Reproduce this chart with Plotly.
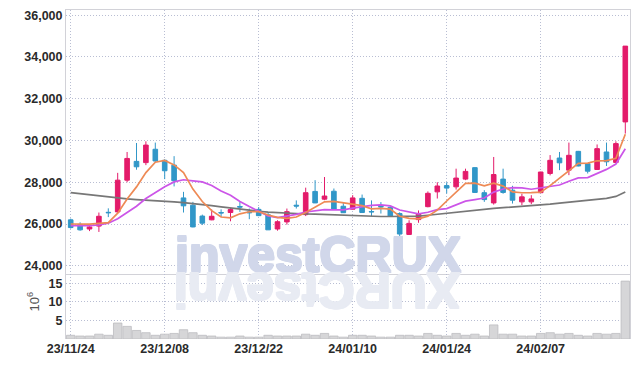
import plotly.graph_objects as go

dates = ["23/11/24","23/11/27","23/11/28","23/11/29","23/11/30","23/12/01","23/12/04","23/12/05","23/12/06","23/12/07",
         "23/12/08","23/12/11","23/12/12","23/12/13","23/12/14","23/12/15","23/12/18","23/12/19","23/12/20","23/12/21",
         "23/12/22","23/12/26","23/12/27","23/12/28","24/01/02","24/01/03","24/01/04","24/01/05","24/01/08","24/01/09",
         "24/01/10","24/01/11","24/01/12","24/01/15","24/01/16","24/01/17","24/01/18","24/01/19","24/01/22","24/01/23",
         "24/01/24","24/01/25","24/01/26","24/01/29","24/01/30","24/01/31","24/02/01","24/02/02","24/02/05","24/02/06",
         "24/02/07","24/02/08","24/02/13","24/02/14","24/02/15","24/02/16","24/02/19","24/02/20","24/02/21","24/02/22"]

opens = [26200,25980,25760,25900,26560,26580,28100,29000,28940,29580,
         29050,28820,27250,26900,26380,26200,26550,26550,26840,26580,
         26700,26440,25760,26100,26900,26450,27560,27190,27570,26850,
         26710,27230,26600,26850,26800,26500,25500,26210,26830,27540,
         27840,27780,28150,28700,27500,27010,28150,27620,27060,27060,
         27500,28420,29160,28580,29480,28890,28610,29450,28950,30890]
highs = [26260,26080,25900,26550,26750,28450,29450,29880,29960,29900,
         29100,29250,27540,27060,26450,26700,26700,26770,27050,26740,
         26810,26540,26180,26740,27130,27740,28100,28250,27700,27010,
         27380,27410,27130,27050,26850,26560,26180,26650,27560,28000,
         28000,28650,28650,28720,27620,29210,28650,27830,27450,27380,
         28500,29300,29450,29900,29500,28900,29810,29900,29960,34520]
lows = [25780,25680,25660,25620,26330,26500,28000,28600,28820,28960,
        28150,27800,26550,25840,25950,26180,26340,26130,26580,26230,
        26380,25720,25680,25970,26740,26380,27000,27140,26700,26530,
        26700,26540,26370,26500,26350,25380,25480,26060,26800,27220,
        27460,27650,28100,27500,27060,26930,27450,26980,26900,26950,
        27480,28330,28580,28340,28760,28420,28600,28780,28940,30330]
closes = [25830,25720,25860,26370,26540,28100,29140,28740,29780,29020,
          28550,28070,26870,25860,26040,26370,26530,26690,26810,26540,
          26400,25720,26110,26590,26860,27500,27010,27340,26720,26540,
          27250,26550,26580,26820,26380,25520,26030,26470,27470,27820,
          27720,28200,28520,27510,27170,28370,27510,27140,27300,27200,
          28490,29050,28930,29290,28780,28530,29610,28980,29850,34520]
volumes = [1.0,0.8,0.8,1.3,1.0,4.3,3.4,2.3,1.7,1.0,
           1.3,1.5,2.5,1.7,1.0,0.8,0.5,0.5,0.8,0.5,
           0.5,1.0,0.8,0.8,0.8,1.3,1.0,1.5,0.8,0.5,
           1.0,1.0,0.8,0.5,0.5,1.0,1.0,0.8,1.5,1.0,
           0.8,1.5,1.0,1.3,0.8,3.8,1.3,1.3,0.8,0.8,
           1.5,1.7,1.3,1.5,1.0,0.8,1.5,1.3,1.5,15.6]
# moving-average values read from the chart where earlier history is not shown
ma5_head = [26000,26000,25990,26030]
ma10_head = [25920,25910,25920,25960,26040,26250,26560,26850,27220]
ma_long = [27500,27450,27400,27330,27270,27230,27200,27170,27150,27120,
           27100,27060,27020,26980,26940,26880,26820,26760,26700,26650,
           26610,26570,26540,26520,26500,26480,26470,26450,26430,26410,
           26390,26380,26370,26360,26360,26360,26370,26380,26420,26470,
           26520,26570,26620,26670,26720,26750,26780,26810,26840,26870,
           26900,26950,27000,27040,27080,27130,27180,27230,27320,27530]
price_ticks = [24000,26000,28000,30000,32000,34000,36000]
price_labels = ["24,000","26,000","28,000","30,000","32,000","34,000","36,000"]
vol_ticks = [5,10,15]
vol_labels = ["5","10","15"]

def rolling(vals, n, head):
    return list(head) + [sum(vals[i-n+1:i+1]) / n for i in range(len(head), len(vals))]

ma5 = rolling(closes, 5, ma5_head)
ma10 = rolling(closes, 10, ma10_head)

UP = "#e31b6a"
DOWN = "#3197c8"
GRID = "#b9bed3"
GDASH = "1px,2px"
LINE = "#d2d2d8"
tickfont = dict(family="Liberation Sans", size=12.5, color="#2a2a2a")

def bold(lst):
    return ["<b>%s</b>" % s for s in lst]

def thick(c):
    offs = [(1, 0), (-1, 0), (0, 1), (0, -1), (1, 1), (-1, -1), (1, -1), (-1, 1)]
    return ", ".join("%dpx %dpx 0 %s" % (dx, dy, c) for dx, dy in offs)

WM = "#d1d7ea"
WM2 = "#e8ebf3"

fig = go.Figure()
fig.add_trace(go.Scatter(x=dates, y=ma_long, mode="lines", line=dict(color="#777777", width=1.7),
                         xaxis="x", yaxis="y", hoverinfo="skip", showlegend=False))
fig.add_trace(go.Scatter(x=dates, y=ma10, mode="lines", line=dict(color="#cc55e8", width=1.7),
                         xaxis="x", yaxis="y", hoverinfo="skip", showlegend=False))
fig.add_trace(go.Scatter(x=dates, y=ma5, mode="lines", line=dict(color="#ee8a55", width=1.7),
                         xaxis="x", yaxis="y", hoverinfo="skip", showlegend=False))
fig.add_trace(go.Candlestick(x=dates, open=opens, high=highs, low=lows, close=closes,
                             increasing=dict(line=dict(color=UP, width=1), fillcolor=UP),
                             decreasing=dict(line=dict(color=DOWN, width=1), fillcolor=DOWN),
                             xaxis="x", yaxis="y", showlegend=False))
fig.add_trace(go.Bar(x=dates, y=volumes, marker=dict(color="#d6d6d8", line=dict(color="#bcbcc0", width=0.8)),
                     xaxis="x2", yaxis="y2", showlegend=False))

tick_dates = dates[::10]
fig.update_layout(
    width=639, height=367, autosize=False,
    margin=dict(l=66, r=9, t=10, b=28),
    paper_bgcolor="white", plot_bgcolor="white",
    bargap=0.1,
    xaxis=dict(type="category", domain=[0, 1], anchor="y", showticklabels=False, automargin=False,
               tickvals=tick_dates, showgrid=True, gridcolor=GRID, griddash=GDASH, gridwidth=1,
               showline=True, mirror=True, linecolor=LINE, linewidth=1, ticks="",
               rangeslider=dict(visible=False), range=[-0.5, 59.5]),
    xaxis2=dict(type="category", domain=[0, 1], anchor="y2", matches="x", automargin=False,
                tickvals=tick_dates, ticktext=bold(tick_dates), tickfont=tickfont,
                showgrid=True, gridcolor=GRID, griddash=GDASH, gridwidth=1,
                showline=False, ticks=""),
    yaxis=dict(domain=[0.1985, 1], range=[23620, 36250], tickvals=price_ticks, ticktext=bold(price_labels),
               tickfont=tickfont, automargin=False,
               showgrid=True, gridcolor=GRID, griddash=GDASH, gridwidth=1,
               showline=True, mirror=True, linecolor=LINE, linewidth=1, ticks="", zeroline=False),
    yaxis2=dict(domain=[0, 0.1985], range=[0, 17.6], tickvals=vol_ticks, ticktext=bold(vol_labels),
                tickfont=tickfont, automargin=False,
                showgrid=True, gridcolor=GRID, griddash=GDASH, gridwidth=1,
                showline=True, mirror=True, linecolor=LINE, linewidth=1, ticks="", zeroline=False),
    annotations=[
        dict(text="10<sup>6</sup>", xref="paper", yref="paper", x=-0.058, y=0.115, textangle=-90,
             xanchor="center", yanchor="middle", showarrow=False,
             font=dict(family="Liberation Sans", size=13, color="#555555")),
        dict(text="<b>investCRUX</b>", xref="paper", yref="paper", x=0.446, y=0.254,
             xanchor="center", yanchor="middle", showarrow=False,
             font=dict(family="Liberation Sans", size=50, color=WM, shadow=thick(WM))),
        dict(text="<b>XURCtsevni</b>", xref="paper", yref="paper", x=0.446, y=0.147, textangle=180,
             xanchor="center", yanchor="middle", showarrow=False,
             font=dict(family="Liberation Sans", size=50, color=WM2, shadow=thick(WM2))),
    ],
)

fig.write_html("out.html", config={"displayModeBar": False},
               post_script="document.body.style.margin='0';")
